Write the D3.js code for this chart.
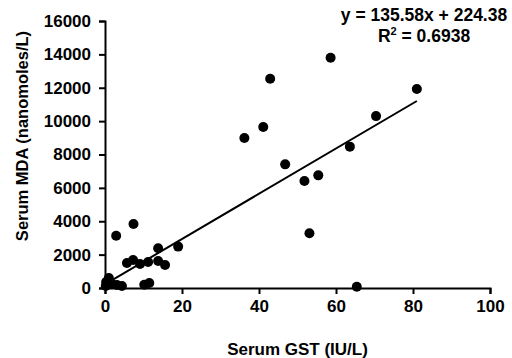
<!DOCTYPE html>
<html>
<head>
<meta charset="utf-8">
<script src="https://cdn.jsdelivr.net/npm/d3@7"></script>
<style>
  body { margin: 0; background: #fff; }
  text { font-family: "Liberation Sans", Arial, sans-serif; font-weight: bold; }
</style>
</head>
<body>
<div id="chart"></div>
<script>
// serum GST (IU/L) vs serum MDA (nanomoles/L)
const gst = [81, 70.4, 58.6, 42.9, 41.1, 36.2, 63.6, 46.8, 51.8, 55.4, 53.1, 65.4,
             7.4, 2.9, 13.8, 19.0, 5.7, 7.3, 9.1, 11.2, 13.8, 15.6,
             0.2, 0.3, 1.0, 1.8, 3.1, 4.4, 10.2, 11.5]
const mda = [11920, 10300, 13800, 12540, 9650, 8990, 8470, 7410, 6410, 6750, 3280, 80,
             3840, 3130, 2380, 2480, 1500, 1680, 1440, 1560, 1620, 1380,
             120, 360, 600, 240, 180, 120, 200, 300]

const slope = 135.58
const intercept = 224.38
const rSquared = "0.6938"

const xTicks = [0, 20, 40, 60, 80, 100]
const yTicks = [0, 2000, 4000, 6000, 8000, 10000, 12000, 14000, 16000]

const width = 512
const height = 358
const margin = { top: 21, right: 22, bottom: 70, left: 105 }

const svg = d3.select("#chart")
              .append("svg")
              .attr("width", width)
              .attr("height", height)

const x = d3.scaleLinear()
            .domain([0, 100])
            .range([margin.left, width - margin.right])

const y = d3.scaleLinear()
            .domain([0, 16000])
            .range([height - margin.bottom, margin.top])

const xAxis = g => g.attr("transform", `translate(0,${height - margin.bottom})`)
                    .call(d3.axisBottom(x).tickValues(xTicks).tickFormat(d3.format("d"))
                            .tickSize(6).tickSizeOuter(6).tickPadding(6))

const yAxis = g => g.attr("transform", `translate(${margin.left},0)`)
                    .call(d3.axisLeft(y).tickValues(yTicks).tickFormat(d3.format("d"))
                            .tickSize(6).tickSizeOuter(6).tickPadding(8))

const styleAxis = g => {
  g.selectAll(".domain").attr("stroke", "#000").attr("stroke-width", 2)
  g.selectAll(".tick line").attr("stroke", "#000").attr("stroke-width", 2)
  g.selectAll(".tick text").attr("fill", "#000").attr("font-size", 17)
   .attr("font-family", "Liberation Sans, Arial, sans-serif").attr("font-weight", "bold")
}

svg.append("g").call(xAxis).call(styleAxis)
svg.append("g").call(yAxis).call(styleAxis)

// trend line over the data range
const xMin = d3.min(gst), xMax = d3.max(gst)
svg.append("line")
   .attr("x1", x(xMin))
   .attr("y1", y(slope * xMin + intercept))
   .attr("x2", x(xMax))
   .attr("y2", y(slope * xMax + intercept))
   .attr("stroke", "#000")
   .attr("stroke-width", 2)

svg.append("g")
   .selectAll("circle")
   .data(gst)
   .join("circle")
   .attr("cx", d => x(d))
   .attr("cy", (d, i) => y(mda[i]))
   .attr("r", 5)
   .attr("fill", "#000")

// equation
svg.append("text")
   .attr("x", 424)
   .attr("y", 21)
   .attr("text-anchor", "middle")
   .attr("font-size", 17.5)
   .text(`y = ${slope}x + ${intercept}`)

const r2 = svg.append("text")
   .attr("x", 424)
   .attr("y", 42)
   .attr("text-anchor", "middle")
   .attr("font-size", 17.5)
r2.append("tspan").text("R")
r2.append("tspan").attr("font-size", 11).attr("dy", -7).text("2")
r2.append("tspan").attr("dy", 7).text(` = ${rSquared}`)

// axis titles
svg.append("text")
   .attr("x", (margin.left + width - margin.right) / 2)
   .attr("y", 355)
   .attr("text-anchor", "middle")
   .attr("font-size", 17)
   .text("Serum GST (IU/L)")

svg.append("text")
   .attr("transform", "translate(28,136) rotate(-90)")
   .attr("text-anchor", "middle")
   .attr("font-size", 16.5)
   .text("Serum MDA (nanomoles/L)")
</script>
</body>
</html>
